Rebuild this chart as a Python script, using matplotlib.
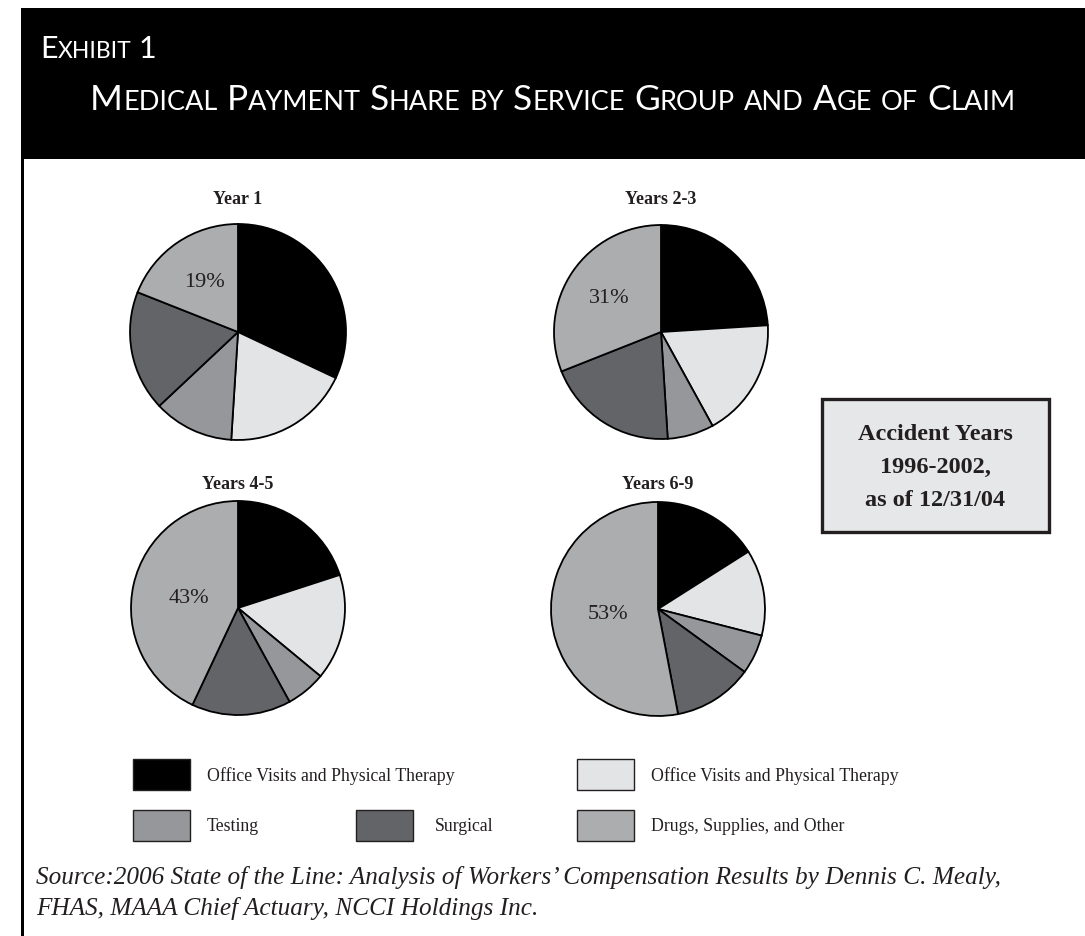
import matplotlib
matplotlib.use("Agg")
import numpy as np
import matplotlib.pyplot as plt
from matplotlib.patches import Rectangle
from matplotlib import font_manager as fm

# ---------------- data ----------------
categories = ["Office Visits and Physical Therapy", "Office Visits and Physical Therapy",
              "Testing", "Surgical", "Drugs, Supplies, and Other"]
colors = ["#000000", "#e3e4e6", "#96979a", "#636468", "#acadaf"]
pie_titles = ["Year 1", "Years 2-3", "Years 4-5", "Years 6-9"]
year1 = [32, 19, 12, 18, 19]
years2_3 = [24, 18, 7, 20, 31]
years4_5 = [20, 16, 6, 15, 43]
years6_9 = [16, 13, 6, 12, 53]
series = [year1, years2_3, years4_5, years6_9]
box_lines = ["Accident Years", "1996-2002,", "as of 12/31/04"]
header_small = "Exhibit 1"
header_title = "Medical Payment Share by Service Group and Age of Claim"
source_lines = ["Source:2006 State of the Line: Analysis of Workers\u2019 Compensation Results by Dennis C. Mealy,",
                "FHAS, MAAA Chief Actuary, NCCI Holdings Inc."]

W, H = 1085, 937
fig = plt.figure(figsize=(W / 100, H / 100), dpi=100)
bg = fig.add_axes([0, 0, 1, 1])
bg.set_xlim(0, W)
bg.set_ylim(H, 0)
bg.axis("off")

SERIF = "Liberation Serif"
names = {f.name for f in fm.fontManager.ttflist}
HEAD = "Liberation Sans Narrow" if "Liberation Sans Narrow" in names else "Lato"

# header band and left rule
bg.add_patch(Rectangle((20.5, 9), W - 20.5, 151, facecolor="black", edgecolor="none"))
bg.add_patch(Rectangle((20.5, 160), 3.5, H - 160, facecolor="black", edgecolor="none"))

renderer = fig.canvas.get_renderer()
LOWER = {"by", "and", "of"}


def small_caps(x, y, s, big, small, ha="left"):
    """draw small-caps text with baseline y (pixel coords, y down)."""
    pieces = []
    for wi, word in enumerate(s.split(" ")):
        if wi > 0:
            pieces.append((" ", big))
        if word in LOWER:
            pieces.append((word.upper(), small))
            continue
        pieces.append((word[0].upper(), big))
        if len(word) > 1:
            pieces.append((word[1:].upper(), small))
    widths = []
    for txt, sz in pieces:
        t = bg.text(0, 0, txt.replace(" ", "\u00a0"), fontsize=sz, family=HEAD, color="white")
        widths.append(t.get_window_extent(renderer).width)
        t.remove()
    total = sum(widths)
    cx = x - total / 2 if ha == "center" else x
    for (txt, sz), w in zip(pieces, widths):
        if txt != " ":
            bg.text(cx, y, txt, fontsize=sz, family=HEAD, color="white", va="baseline", ha="left")
        cx += w


small_caps(40, 58, header_small, 22, 16.5)
small_caps(553, 110, header_title, 25.5, 19.5, ha="center")

# pies: (center x, center y, radius, label distance, title baseline)
pie_geo = [(238, 333, 108, 0.56, 204), (661, 333, 107, 0.58, 204),
           (238, 609, 107, 0.47, 489), (658, 610, 107, 0.47, 489)]
for title, vals, (cx, cy, r, pd, ty) in zip(pie_titles, series, pie_geo):
    side = 2.2 * r
    ax = fig.add_axes([(cx - side / 2) / W, 1 - (cy + side / 2) / H, side / W, side / H])
    wedges, _ = ax.pie(vals, colors=colors, startangle=90, counterclock=False,
                       wedgeprops=dict(edgecolor="black", linewidth=1.3))
    w = wedges[-1]
    mid = np.deg2rad((w.theta1 + w.theta2) / 2)
    ax.text(pd * np.cos(mid), pd * np.sin(mid), f"{vals[-1]}%", ha="center", va="center",
            family=SERIF, fontsize=16, color="#231f20")
    ax.set_xlim(-1.1, 1.1)
    ax.set_ylim(-1.1, 1.1)
    ax.set_aspect("equal")
    bg.text(cx, ty, title, ha="center", va="baseline", family=SERIF,
            fontweight="bold", fontsize=13, color="#231f20")

# accident year box
bg.add_patch(Rectangle((822, 400), 227, 133, facecolor="#e6e7e8", edgecolor="#231f20", linewidth=2.4))
for i, line in enumerate(box_lines):
    bg.text(935, 440 + i * 33, line, ha="center", va="baseline", family=SERIF,
            fontweight="bold", fontsize=17.5, color="#231f20")

# legend
leg_pos = [(133, 760), (577, 760), (133, 811), (356, 811), (577, 811)]
for (lx, ly), lab, col in zip(leg_pos, categories, colors):
    bg.add_patch(Rectangle((lx, ly), 57, 31, facecolor=col, edgecolor="#231f20", linewidth=1.0))
    tx = lx + 74 if lab != "Surgical" else lx + 79
    bg.text(tx, ly + 16, lab, ha="left", va="center", family=SERIF, fontsize=12.8, color="#231f20")

# source
for i, line in enumerate(source_lines):
    bg.text(36, 884 + i * 31, line, ha="left", va="baseline", family=SERIF, style="italic",
            fontsize=18.2, color="#231f20")

fig.savefig("out.png", dpi=100)
